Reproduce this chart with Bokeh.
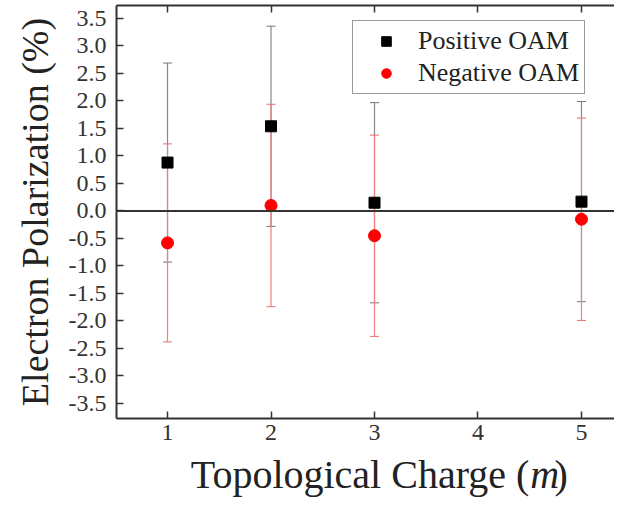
from bokeh.plotting import figure
from bokeh.layouts import column
from bokeh.models import (Range1d, LinearAxis, FixedTicker, NumeralTickFormatter,
                          Whisker, ColumnDataSource, Span, Legend, LegendItem, Label)
from bokeh.embed import file_html
from bokeh.resources import INLINE

# data
m_pos = [1, 2, 3, 5]
pol_pos = [0.88, 1.54, 0.15, 0.17]
err_pos = [1.81, 1.82, 1.82, 1.82]

m_neg = [1, 2, 3, 5]
pol_neg = [-0.58, 0.10, -0.45, -0.15]
err_neg = [1.80, 1.84, 1.83, 1.84]

x_ticks = [1, 2, 3, 4, 5]
y_ticks = [-3.5, -3.0, -2.5, -2.0, -1.5, -1.0, -0.5, 0.0, 0.5, 1.0, 1.5, 2.0, 2.5, 3.0, 3.5]

FONT = "Liberation Serif"

pos = ColumnDataSource(dict(x=m_pos, y=pol_pos,
                            lo=[v - e for v, e in zip(pol_pos, err_pos)],
                            hi=[v + e for v, e in zip(pol_pos, err_pos)]))
neg = ColumnDataSource(dict(x=m_neg, y=pol_neg,
                            lo=[v - e for v, e in zip(pol_neg, err_neg)],
                            hi=[v + e for v, e in zip(pol_neg, err_neg)]))

p = figure(width=614, height=452, output_backend="svg", toolbar_location=None, title=None,
           x_range=Range1d(0.507, 5.319), y_range=Range1d(-3.773, 3.736),
           x_axis_type=None, y_axis_type=None,
           min_border_left=116, min_border_right=0, min_border_top=5, min_border_bottom=34)
p.outline_line_color = None
p.xgrid.visible = False
p.ygrid.visible = False
p.background_fill_color = "white"
p.border_fill_color = "white"

def style_axis(ax):
    ax.axis_line_color = "#333333"
    ax.axis_line_width = 2
    ax.major_tick_in = 7
    ax.major_tick_out = 0
    ax.major_tick_line_color = "#333333"
    ax.major_tick_line_width = 1.5
    ax.minor_tick_line_color = None
    ax.major_label_text_font = FONT
    ax.major_label_text_color = "#333333"
    ax.axis_label_text_font = FONT
    ax.axis_label_text_font_style = "normal"
    ax.axis_label_text_color = "#222222"

xax = LinearAxis(ticker=FixedTicker(ticks=x_ticks))
style_axis(xax)
xax.major_label_text_font_size = "24px"
xax.major_label_standoff = 6
p.add_layout(xax, "below")

yax = LinearAxis(ticker=FixedTicker(ticks=y_ticks), axis_label="Electron Polarization (%)",
                 formatter=NumeralTickFormatter(format="0.0"))
style_axis(yax)
yax.major_label_text_font_size = "24px"
yax.major_label_standoff = 10
yax.axis_label_text_font_size = "38px"
yax.axis_label_standoff = 10
p.add_layout(yax, "left")

tax = LinearAxis(ticker=FixedTicker(ticks=x_ticks),
                 major_label_overrides={t: "" for t in x_ticks})
style_axis(tax)
p.add_layout(tax, "above")

p.add_layout(Span(location=0, dimension="width", line_color="#333333", line_width=2))

wp = Whisker(source=pos, base="x", lower="lo", upper="hi", line_color="#888888", line_width=1.2)
wp.upper_head.line_color = "#777777"
wp.lower_head.line_color = "#777777"
wp.upper_head.size = 9
wp.lower_head.size = 9
p.add_layout(wp)

r_pos = p.scatter("x", "y", source=pos, marker="square", size=11, fill_color="black", line_color="black")

wn = Whisker(source=neg, base="x", lower="lo", upper="hi", line_color="#f08080", line_width=1.2)
wn.upper_head.line_color = "#e07070"
wn.lower_head.line_color = "#e07070"
wn.upper_head.size = 9
wn.lower_head.size = 9
p.add_layout(wn)

r_neg = p.scatter("x", "y", source=neg, marker="circle", size=12, fill_color="#ff0000", line_color="#ff0000")

legend = Legend(items=[LegendItem(label="Positive OAM", renderers=[r_pos]),
                       LegendItem(label="Negative OAM", renderers=[r_neg])],
                location=(236, 324))
legend.label_text_font = FONT
legend.label_text_font_size = "26px"
legend.label_text_color = "#222222"
legend.border_line_color = "#333333"
legend.border_line_width = 1
legend.padding = 5
legend.glyph_width = 56
legend.glyph_height = 24
legend.label_standoff = 4
legend.spacing = 2
legend.margin = 0
legend.background_fill_alpha = 1
p.add_layout(legend, "center")

# x-axis title (with italic m) in a strip below the plot
t = figure(width=614, height=48, output_backend="svg", toolbar_location=None, title=None,
           x_range=Range1d(0, 614), y_range=Range1d(0, 48),
           x_axis_type=None, y_axis_type=None, min_border=0)
t.outline_line_color = None
t.xgrid.visible = False
t.ygrid.visible = False
xl_font = "40px"
t.add_layout(Label(x=509, y=26, text="Topological Charge (", text_align="right",
                   text_baseline="alphabetic", text_font=FONT, text_font_size=xl_font,
                   text_color="#222222"))
t.add_layout(Label(x=510, y=26, text="m", text_align="left", text_baseline="alphabetic",
                   text_font=FONT, text_font_size=xl_font, text_font_style="italic",
                   text_color="#222222"))
t.add_layout(Label(x=540, y=26, text=")", text_align="left", text_baseline="alphabetic",
                   text_font=FONT, text_font_size=xl_font, text_color="#222222"))

layout = column(p, t, spacing=0)
open("out.html", "w").write(file_html(layout, INLINE))
